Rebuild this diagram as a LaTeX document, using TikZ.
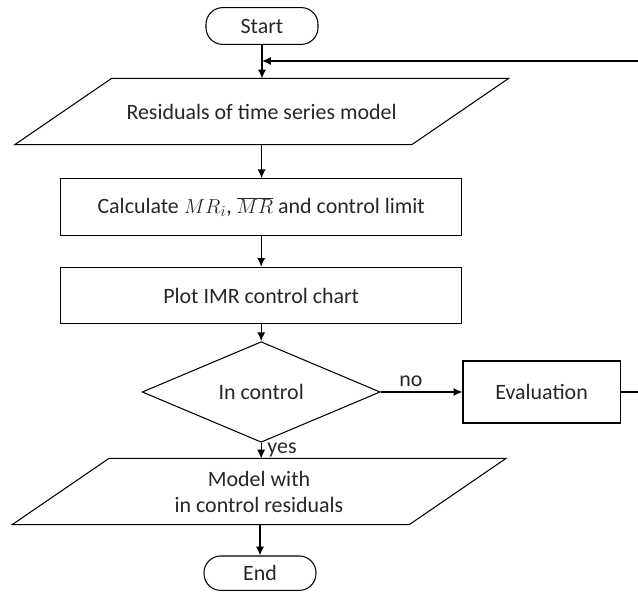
\documentclass[tikz,border=0pt]{standalone}
\usepackage{fontspec}
\setmainfont{Carlito}
\usepackage{tikz}
\usetikzlibrary{shapes.geometric, arrows.meta, positioning}

\begin{document}
\begin{tikzpicture}[font=\fontsize{15.6}{18.5}\selectfont, line width=0.75pt,
    terminal/.style={rectangle, draw, rounded corners=0.42cm, minimum width=2.8cm, minimum height=0.92cm, text=black!85},
    io/.style={rectangle, minimum width=7.48cm, minimum height=1.63cm, inner sep=0pt, align=center, text=black!85},
    block/.style={rectangle, draw, minimum width=10.03cm, minimum height=1.41cm, text=black!85},
    decision/.style={diamond, draw, minimum width=5.95cm, minimum height=1.85cm, inner sep=0pt, text=black!85},
    arrow/.style={line width=0.9pt, ->, >={Latex[length=2.2mm,width=2mm]}}]

    \useasboundingbox (0,0) rectangle (15.95,-14.85);
    \clip (0,0) rectangle (15.95,-14.85);

    % Main flow
    \node [terminal] (start) at (6.55,-0.65) {Start};
    \node [io] (resid) at (6.54,-2.79) {Residuals of time series model};
    \node [block] (calc) at (6.53,-5.175) {Calculate $MR_i$, $\overline{MR}$ and control limit};
    \node [block] (plot) at (6.53,-7.39) {Plot IMR control chart};
    \node [decision] (check) at (6.53,-9.8) {In control};
    \node [io] (model) at (6.475,-12.29) {Model with\\in control residuals};
    \node [terminal, minimum height=0.86cm] (end) at (6.5,-14.33) {End};

    % Parallelogram outlines
    \draw ([xshift=-2.42cm]resid.south west) -- (resid.north west) -- ([xshift=2.42cm]resid.north east) -- (resid.south east) -- cycle;
    \draw ([xshift=-2.42cm]model.south west) -- (model.north west) -- ([xshift=2.42cm]model.north east) -- (model.south east) -- cycle;

    % Feedback
    \node [block, minimum width=3.93cm, minimum height=1.55cm] (eval) at (13.54,-9.8) {Evaluation};
    \coordinate (loop) at (16.3,-1.525);

    % Arrows
    \draw [arrow] (start) -- (start |- resid.north);
    \draw [arrow] (resid) -- (resid |- calc.north);
    \draw [arrow] (calc) -- (plot);
    \draw [arrow] (plot) -- (check);
    \draw [arrow] (check) -- node [above, pos=0.37, inner sep=3pt, text=black!85] {no} (eval);
    \draw [arrow] (check) -- node [right, pos=0.45, inner sep=4pt, text=black!85] {yes} (check |- model.north);
    \draw [arrow] (end |- model.south) -- (end);
    \draw [arrow] (eval) -| (loop) -- (start |- loop);
\end{tikzpicture}
\end{document}
